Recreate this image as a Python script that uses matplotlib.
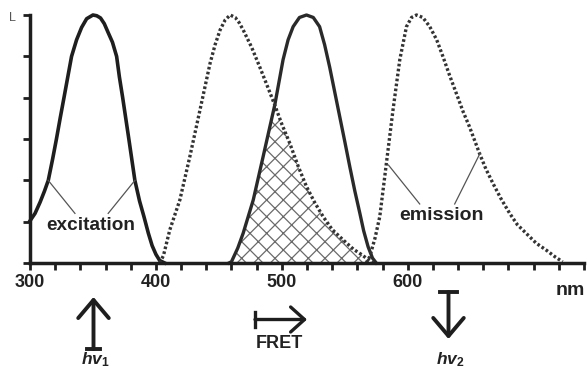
import numpy as np
import matplotlib
matplotlib.use("Agg")
import matplotlib.pyplot as plt
from matplotlib.lines import Line2D

plt.rcParams['font.family'] = ['Liberation Sans', 'DejaVu Sans']
plt.rcParams['mathtext.fontset'] = 'custom'
plt.rcParams['mathtext.it'] = 'Liberation Sans:italic:bold'
plt.rcParams['mathtext.rm'] = 'Liberation Sans:bold'

# ---- data (wavelength nm, relative intensity) ----
exc_nm = [300, 304, 308, 311.5, 314.5, 318, 321, 324, 327, 330, 333, 337, 341, 345, 350,
          353, 356, 359, 362, 365.5, 368.8, 371, 373.6, 378.5, 383.3, 387, 390.5, 394, 397, 400, 403, 407]
exc_v = [.17, .2, .245, .29, .333, .42, .5, .585, .667, .75, .833, .9, .95, .985, 1.0,
         .997, .988, .965, .93, .89, .833, .75, .667, .5, .333, .25, .187, .12, .07, .035, .01, 0]

don_em_nm = [403, 406, 411, 419, 427, 435, 443, 447, 451, 455, 459, 463, 466, 469.3, 476, 482.5,
             488, 494.4, 500, 506.3, 513, 519.6, 526, 532.8, 540, 548.7, 557, 563, 567, 572]
don_em_v = [0, .03, .133, .254, .43, .617, .805, .88, .94, .98, 1.0, .99, .97, .94, .87, .79,
            .72, .637, .56, .483, .39, .308, .245, .187, .135, .093, .055, .035, .02, 0]

acc_abs_nm = [458, 460, 465, 469.3, 477.3, 485.2, 494.4, 501, 505, 509, 514, 519.6, 525, 530, 534,
              538, 542, 546, 550, 554, 558, 562, 565, 568.5, 572, 575]
acc_abs_v = [0, .005, .06, .12, .254, .43, .637, .82, .9, .953, .99, 1.0, .99, .953, .88,
             .79, .69, .59, .49, .388, .29, .2, .13, .066, .02, 0]

acc_em_nm = [567, 569.8, 574, 577.8, 583, 588.3, 593.7, 599, 603, 607, 612, 617.5, 623, 628, 633,
             638.6, 644, 649, 657, 662, 667.7, 674, 681, 687, 694, 702, 710, 717, 723]
acc_em_v = [0, .025, .1, .187, .40, .617, .82, .953, .99, 1.0, .99, .953, .9, .832, .76,
            .684, .61, .55, .442, .38, .321, .26, .2, .155, .12, .08, .052, .025, .005]

x_ticks = list(range(300, 741, 20))
x_labels = {300: "300", 400: "400", 500: "500", 600: "600"}
y_ticks = [0, 1/6, 2/6, 3/6, 4/6, 5/6, 1]

W, H = 587, 372
fig = plt.figure(figsize=(W/100, H/100), dpi=100)
ax = fig.add_axes([30/W, (H-263)/H, (584-30)/W, 248/H])
ax.set_xlim(300, 740)
ax.set_ylim(0, 1)

dark = '#1e1e1e'
dotc = '#333333'

# overlap hatch (min of donor emission and acceptor absorbance)
grid = np.array(sorted(set(don_em_nm) | set(acc_abs_nm)))
grid = grid[(grid >= 458) & (grid <= 575)]
ov = np.minimum(np.interp(grid, don_em_nm, don_em_v, left=0, right=0),
                np.interp(grid, acc_abs_nm, acc_abs_v, left=0, right=0))
plt.rcParams['hatch.linewidth'] = 0.9
ax.fill_between(grid, 0, ov, facecolor='none', edgecolor='#6a6a6a', hatch='xx', linewidth=0)

ax.plot(exc_nm, exc_v, color=dark, lw=2.6, clip_on=False)
ax.plot(acc_abs_nm, acc_abs_v, color='#2a2a2a', lw=2.4, clip_on=False)
ax.plot(don_em_nm, don_em_v, color=dotc, lw=2.4, linestyle=(0, (0.8, 0.7)), clip_on=False)
ax.plot(acc_em_nm, acc_em_v, color=dotc, lw=2.4, linestyle=(0, (0.8, 0.7)), clip_on=False)

# leader lines
lc = '#555555'
ax.plot([314.5, 335.7], [0.333, 0.200], color=lc, lw=0.9)
ax.plot([383.3, 362.1], [0.333, 0.200], color=lc, lw=0.9)
ax.plot([584.7, 609.5], [0.395, 0.238], color=lc, lw=0.9)
ax.plot([657.7, 637.3], [0.445, 0.238], color=lc, lw=0.9)
ax.text(348.4, 0.150, "excitation", ha='center', va='center', fontsize=13.7, fontweight='bold', color='#222')
ax.text(627, 0.190, "emission", ha='center', va='center', fontsize=14, fontweight='bold', color='#222')

# axes styling
for s in ['top', 'right']:
    ax.spines[s].set_visible(False)
for s in ['left', 'bottom']:
    ax.spines[s].set_linewidth(2.5)
    ax.spines[s].set_color(dark)
ax.set_xticks(x_ticks)
ax.set_xticklabels([x_labels.get(t, "") for t in x_ticks], fontsize=13, fontweight='bold', color='#222')
ax.set_yticks(y_ticks)
ax.set_yticklabels([])
ax.tick_params(axis='both', direction='out', length=5, width=2, color=dark, pad=3)
ax.text(729, -0.075, "nm", ha='center', va='top', fontsize=14, fontweight='bold', color='#222', clip_on=False)
fig.text(12/W, (H-18)/H, "L", fontsize=9, color='#555', ha='center', va='center')

def fp(x, y):
    return (x / W, (H - y) / H)

def arrow(x0, y0, x1, y1, hl=0.65, hw=0.55, lw=2.8):
    fig.add_artist(matplotlib.patches.FancyArrowPatch(
        fp(x0, y0), fp(x1, y1), transform=fig.transFigure,
        arrowstyle=f'->,head_length={hl},head_width={hw}', mutation_scale=20,
        lw=lw, color=dark, shrinkA=0, shrinkB=0))

def bar(xa, xb, ya, yb, lw=2.8):
    fig.add_artist(Line2D([xa / W, xb / W], [(H - ya) / H, (H - yb) / H],
                          transform=fig.transFigure, lw=lw, color=dark))

# hv1 up arrow
arrow(93.5, 349, 93.5, 297)
bar(87, 100, 349, 349)
fig.text(*fp(95, 360), r"$hv_1$", ha='center', va='center', fontsize=12.5, color='#222')
# FRET arrow
arrow(255, 319.5, 307, 319.5, hl=0.5, hw=0.45, lw=2.4)
bar(255, 255, 312, 327, lw=2.4)
fig.text(*fp(279, 343), "FRET", ha='center', va='center', fontsize=13, fontweight='bold', color='#222')
# hv2 down arrow
arrow(448.5, 292, 448.5, 339)
bar(440, 457, 292, 292)
fig.text(*fp(450, 360), r"$hv_2$", ha='center', va='center', fontsize=12.5, color='#222')

fig.savefig("out.png", dpi=100)
